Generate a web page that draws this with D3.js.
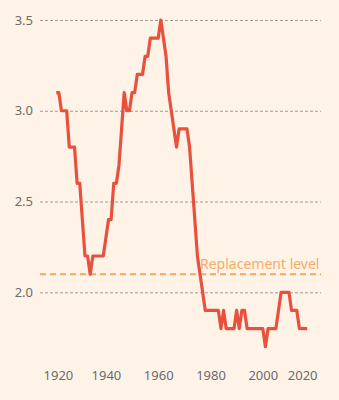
<!DOCTYPE html>
<html>
<head>
<meta charset="utf-8">
<script src="https://cdn.jsdelivr.net/npm/d3@7"></script>
<style>
  html, body { margin: 0; padding: 0; background: #FFF3E8; }
  svg { display: block; }
  .tick text { font-family: "Noto Sans", sans-serif; font-size: 13px; fill: #6b6b6b; }
</style>
</head>
<body>
<svg id="chart" width="339" height="400"></svg>
<script>
// Total fertility rate, births per woman, 1921-2017
const startYear = 1921;
const rates1920s = [3.1, 3.1, 3.0, 3.0, 3.0, 2.8, 2.8, 2.8, 2.6];           // 1921-1929
const rates1930s = [2.6, 2.4, 2.2, 2.2, 2.1, 2.2, 2.2, 2.2, 2.2, 2.2];      // 1930-1939
const rates1940s = [2.3, 2.4, 2.4, 2.6, 2.6, 2.7, 2.9, 3.1, 3.0, 3.0];      // 1940-1949
const rates1950s = [3.1, 3.1, 3.2, 3.2, 3.2, 3.3, 3.3, 3.4, 3.4, 3.4];      // 1950-1959
const rates1960s = [3.4, 3.5, 3.4, 3.3, 3.1, 3.0, 2.9, 2.8, 2.9, 2.9];      // 1960-1969
const rates1970s = [2.9, 2.9, 2.8, 2.6, 2.4, 2.2, 2.1, 2.0, 1.9, 1.9];      // 1970-1979
const rates1980s = [1.9, 1.9, 1.9, 1.9, 1.8, 1.9, 1.8, 1.8, 1.8, 1.8];      // 1980-1989
const rates1990s = [1.9, 1.8, 1.9, 1.9, 1.8, 1.8, 1.8, 1.8, 1.8, 1.8];      // 1990-1999
const rates2000s = [1.8, 1.7, 1.8, 1.8, 1.8, 1.8, 1.9, 2.0, 2.0, 2.0];      // 2000-2009
const rates2010s = [2.0, 1.9, 1.9, 1.9, 1.8, 1.8, 1.8, 1.8];                // 2010-2017

const replacementLevel = 2.1;
const replacementLabel = "Replacement level";
const yTicks = [2.0, 2.5, 3.0, 3.5];
const xTicks = [1920, 1940, 1960, 1980, 2000, 2020];

const rates = [].concat(rates1920s, rates1930s, rates1940s, rates1950s,
  rates1960s, rates1970s, rates1980s, rates1990s, rates2000s, rates2010s);
const series = rates.map((v, i) => ({ year: startYear + i, value: v }));

const svg = d3.select("#chart");

const plotLeft = 40, plotRight = 321;
const x = d3.scaleLinear().domain([1920, 2020]).range([53.6, 315.1]);
const y = d3.scaleLinear().domain([2.0, 3.5]).range([292.3, 20]);

// Horizontal gridlines with value labels on the left
const yAxis = svg.append("g")
  .attr("transform", `translate(${plotLeft},0)`)
  .call(d3.axisLeft(y).tickValues(yTicks).tickFormat(d3.format(".1f"))
    .tickSize(-(plotRight - plotLeft)).tickPadding(7));
yAxis.select(".domain").remove();
yAxis.selectAll(".tick line")
  .attr("stroke", "#a29c96")
  .attr("stroke-width", 1)
  .attr("stroke-dasharray", "3,2");

// Year labels along the bottom; edge labels are kept inside the plot width
const xAxis = svg.append("g")
  .attr("transform", "translate(0,366)")
  .call(d3.axisBottom(x).tickValues(xTicks).tickFormat(d3.format("d")).tickSize(0).tickPadding(0));
xAxis.select(".domain").remove();
xAxis.selectAll(".tick text").attr("dy", "1.05em");
xAxis.selectAll(".tick").filter(d => d === xTicks[0])
  .select("text").attr("text-anchor", "start").attr("x", 43 - x(xTicks[0]));
xAxis.selectAll(".tick").filter(d => d === xTicks[xTicks.length - 1])
  .select("text").attr("text-anchor", "end").attr("x", 317 - x(xTicks[xTicks.length - 1]));

// Replacement level reference line
svg.append("line")
  .attr("x1", plotLeft).attr("x2", plotRight)
  .attr("y1", y(replacementLevel)).attr("y2", y(replacementLevel))
  .attr("stroke", "#F4A862")
  .attr("stroke-width", 2)
  .attr("stroke-dasharray", "6,4");

svg.append("text")
  .attr("x", 200)
  .attr("y", y(replacementLevel) - 5)
  .attr("font-family", "Noto Sans, sans-serif")
  .attr("font-size", 14)
  .attr("fill", "#F3AC68")
  .text(replacementLabel);

// Fertility rate line
const line = d3.line().x(d => x(d.year)).y(d => y(d.value));
svg.append("path")
  .datum(series)
  .attr("fill", "none")
  .attr("stroke", "#E8513D")
  .attr("stroke-width", 3.2)
  .attr("stroke-linejoin", "round")
  .attr("d", line);
</script>
</body>
</html>
